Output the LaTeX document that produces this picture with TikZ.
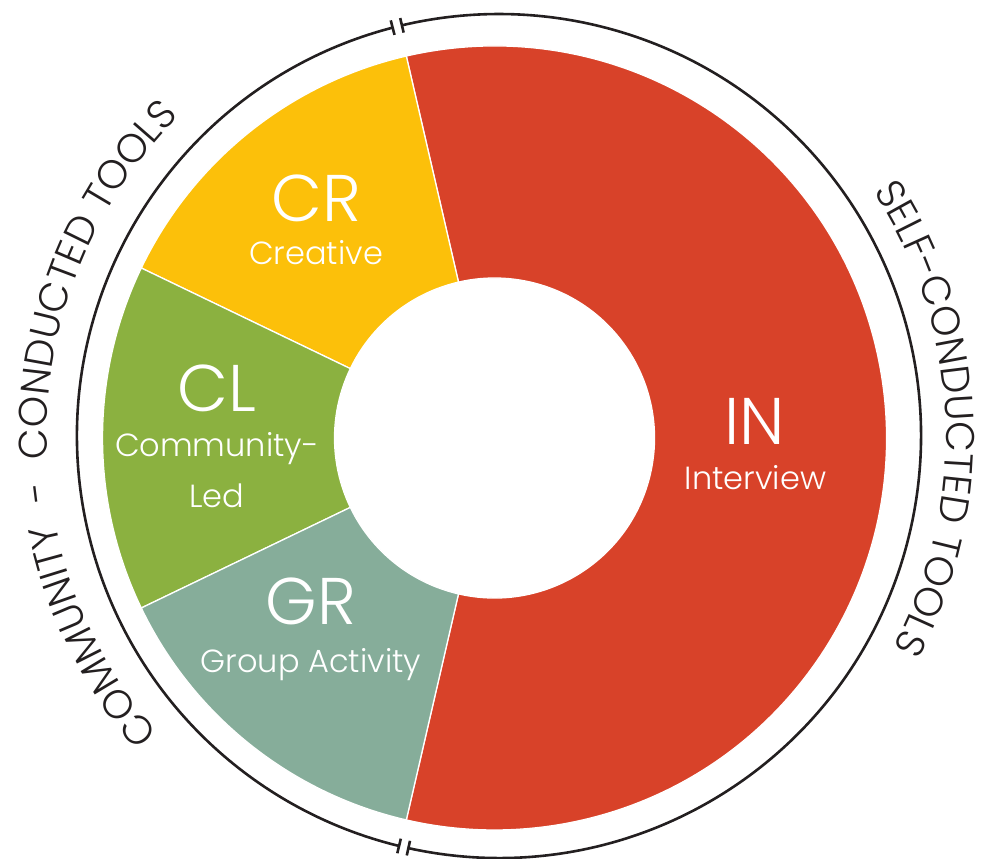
\documentclass[tikz,border=0pt]{standalone}
\usepackage{fontspec}
\setmainfont{Poppins Light}
\usepackage{tikz}
\usetikzlibrary{decorations.text}

\definecolor{inred}{RGB}{216,66,41}
\definecolor{cryellow}{RGB}{252,192,10}
\definecolor{clgreen}{RGB}{139,177,64}
\definecolor{grsage}{RGB}{134,173,154}
\definecolor{ringdark}{RGB}{35,31,32}

\begin{document}
\begin{tikzpicture}[x=1pt, y=1pt,
  sector/.style={draw=white, line width=1.3pt},
  codetext/.style={white, font=\fontsize{66}{66}\selectfont, anchor=base},
  tooltext/.style={white, font=\fontsize{32}{32}\selectfont, anchor=base},
  ring/.style={ringdark, line width=2.6pt}]

\useasboundingbox (-494.5, -421) rectangle (491.5, 438);

%% Draw the donut

% IN
\fill [inred, sector] (-103:160) arc [start angle=-103, end angle=103, radius=160]
  -- (103:392) arc [start angle=103, end angle=-103, radius=392] -- cycle;

% CR
\fill [cryellow, sector] (103:160) arc [start angle=103, end angle=154.3, radius=160]
  -- (154.3:392) arc [start angle=154.3, end angle=103, radius=392] -- cycle;

% CL
\fill [clgreen, sector] (154.3:160) arc [start angle=154.3, end angle=205.7, radius=160]
  -- (205.7:392) arc [start angle=205.7, end angle=154.3, radius=392] -- cycle;

% GR
\fill [grsage, sector] (205.7:160) arc [start angle=205.7, end angle=257, radius=160]
  -- (257:392) arc [start angle=257, end angle=205.7, radius=392] -- cycle;

%% Labels
\node (cr) at (-178.5, 216) [codetext] {CR};
\node (creative) at (-178.5, 173) [tooltext] {Creative};

\node (cl) at (-277.5, 26) [codetext] {CL};
\node (community) at (-277.5, -19) [tooltext] {Community-};
\node (led) at (-277.5, -70) [tooltext] {Led};

\node (gr) at (-183.5, -187) [codetext] {GR};
\node (group) at (-183.5, -235) [tooltext] {Group Activity};

\node (in) at (260.5, -7) [codetext] {IN};
\node (interview) at (261, -52) [tooltext] {Interview};

%% Outer ring with breaks
\begin{scope}[shift={(4.5, 2)}]

% self-conducted side
\draw [ring] (-102.4:422) arc [start angle=-102.4, end angle=103.3, radius=422];
% community side
\draw [ring] (104.6:422) arc [start angle=104.6, end angle=256.3, radius=422];

% break ticks
\draw [ring] (103.3:414.5) -- (103.3:429.5);
\draw [ring] (104.6:414.5) -- (104.6:429.5);
\draw [ring] (-102.4:414.5) -- (-102.4:429.5);
\draw [ring] (256.3:414.5) -- (256.3:429.5);

% ring texts
\path [decorate, decoration={text along path, text align=center,
  text color=ringdark,
  text={|\fontsize{40}{40}\selectfont|COMMUNITY { }-{ } CONDUCTED TOOLS}}]
  (225:452) arc [start angle=225, end angle=131, radius=452];

\path [decorate, decoration={text along path, text align=center,
  text color=ringdark,
  text={|\fontsize{40}{40}\selectfont|SELF-CONDUCTED TOOLS}}]
  (40:447) arc [start angle=40, end angle=-35, radius=447];

\end{scope}

\end{tikzpicture}
\end{document}
